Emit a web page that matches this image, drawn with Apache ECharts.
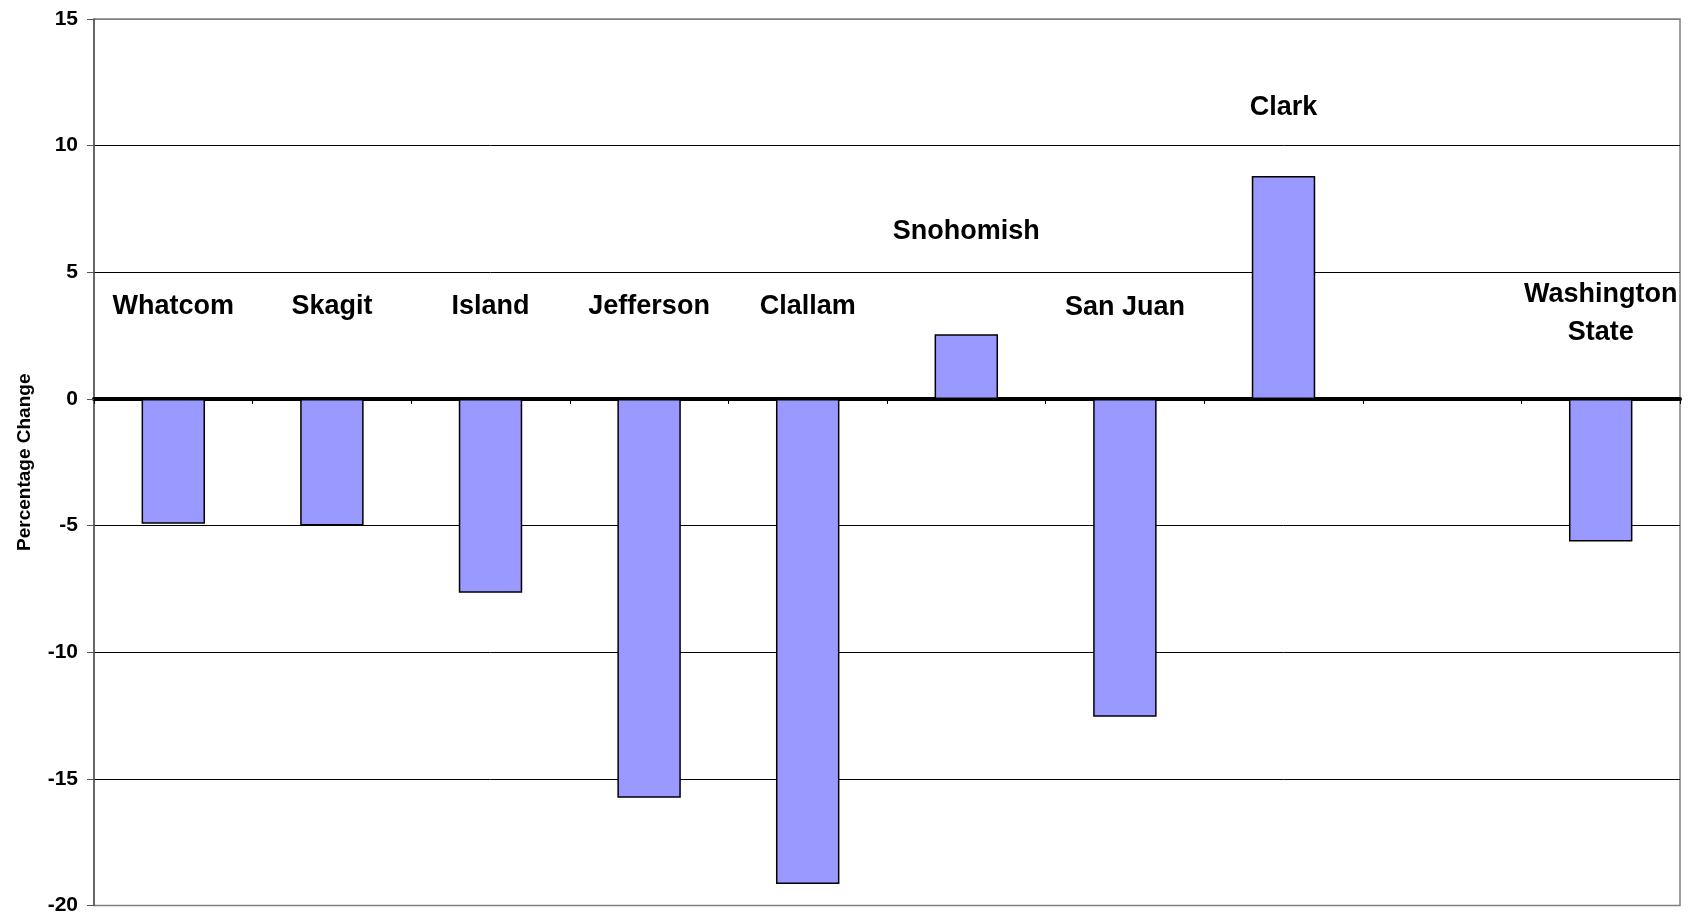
<!DOCTYPE html>
<html>
<head>
<meta charset="utf-8">
<script src="https://cdn.jsdelivr.net/npm/echarts@6/dist/echarts.min.js"></script>
<style>
html,body{margin:0;padding:0;background:#fff;}
#chart{width:1691px;height:916px;}
</style>
</head>
<body>
<div id="chart"></div>
<script>
// Data
const categories = ['Whatcom', 'Skagit', 'Island', 'Jefferson', 'Clallam', 'Snohomish', 'San Juan', 'Clark', '', 'Washington State'];
const values = [-4.93, -5.0, -7.65, -15.75, -19.15, 2.55, -12.55, 8.8, null, -5.63];
const labelTexts = ['Whatcom', 'Skagit', 'Island', 'Jefferson', 'Clallam', 'Snohomish', 'San Juan', 'Clark', '', 'Washington\nState'];
const labelLevels = [3.63, 3.63, 3.63, 3.63, 3.63, 6.62, 3.62, 11.52, null, 3.38];
const yTicks = { min: -20, max: 15, interval: 5 };

const chart = echarts.init(document.getElementById('chart'), null, { renderer: 'canvas' });
const FONT = '"Liberation Sans", Arial, sans-serif';

const labelData = labelLevels.map((v, i) => (v === null ? null : { value: [i, v], name: labelTexts[i] }));

chart.setOption({
  animation: false,
  backgroundColor: '#ffffff',
  grid: {
    left: 94, right: 11, top: 19, bottom: 9,
    show: true, borderColor: '#808080', borderWidth: 1.5, backgroundColor: 'transparent'
  },
  xAxis: {
    type: 'category',
    data: categories,
    boundaryGap: true,
    axisLine: { show: true, onZero: true, lineStyle: { color: '#000', width: 4 } },
    axisTick: { show: true, alignWithLabel: false, length: 5, inside: false, lineStyle: { color: '#000', width: 1 } },
    axisLabel: { show: false },
    splitLine: { show: false }
  },
  yAxis: {
    type: 'value',
    min: yTicks.min, max: yTicks.max, interval: yTicks.interval,
    name: 'Percentage Change',
    nameLocation: 'middle',
    nameRotate: 90,
    nameGap: 60,
    nameTextStyle: { fontFamily: FONT, fontWeight: 'bold', fontSize: 19, color: '#000' },
    axisLine: { show: true, lineStyle: { color: '#555', width: 1.5 } },
    axisTick: { show: true, length: 7, lineStyle: { color: '#555', width: 1 } },
    axisLabel: { fontFamily: FONT, fontWeight: 'bold', fontSize: 21, color: '#000', margin: 16 },
    splitLine: { show: true, lineStyle: { color: ['#808080', '#000', '#000', '#000', '#000', '#000', '#000', '#808080'], width: 1 } }
  },
  series: [
    {
      type: 'bar',
      data: values,
      barWidth: '40%',
      itemStyle: { color: '#9999FF', borderColor: '#000', borderWidth: 1.5 },
      z: 2
    },
    {
      type: 'scatter',
      data: labelData,
      symbolSize: 0,
      silent: true,
      itemStyle: { opacity: 1 },
      label: {
        show: true,
        position: 'inside',
        formatter: p => p.name,
        fontFamily: FONT,
        fontWeight: 'bold',
        fontSize: 27,
        lineHeight: 38,
        color: '#000',
        opacity: 1,
        textBorderWidth: 0,
        align: 'center'
      },
      z: 5
    }
  ]
});
</script>
</body>
</html>
